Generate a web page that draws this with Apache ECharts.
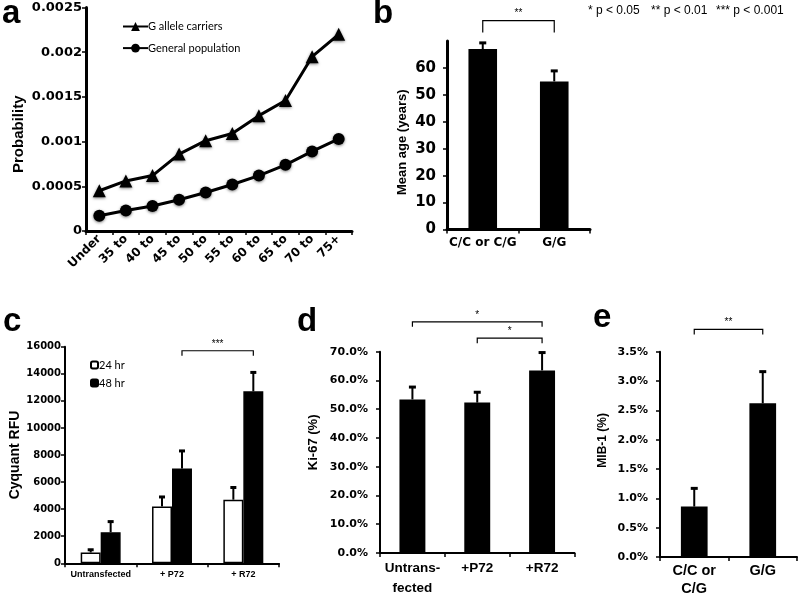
<!DOCTYPE html>
<html>
<head>
<meta charset="utf-8">
<script src="https://cdn.jsdelivr.net/npm/echarts@6/dist/echarts.min.js"></script>
<style>
html, body { margin: 0; padding: 0; background: #fff; }
#main { width: 800px; height: 598px; }
</style>
</head>
<body>
<div id="main"></div>
<script>
// panel a - probability by age group
var ageGroups = ['Under', '35 to', '40 to', '45 to', '50 to', '55 to', '60 to', '65 to', '70 to', '75+'];
var gCarriers = [0.00045, 0.00056, 0.00062, 0.00086, 0.00101, 0.00109, 0.00129, 0.00146, 0.00195, 0.00220];
var generalPop = [0.00017, 0.00023, 0.00028, 0.00035, 0.00043, 0.00052, 0.00062, 0.00074, 0.00089, 0.00103];

// panel b - mean age
var genotypes = ['C/C or C/G', 'G/G'];
var meanAge = [67, 55];
var meanAgeErr = [2.3, 3.9];
var sigB = [[0, 1, 77.6]];
var sigBText = ['**'];

// panel c - cyquant
var cellGroups = ['Untransfected', '+ P72', '+ R72'];
var rfu24 = [800, 4200, 4700];
var rfu24Err = [200, 700, 900];
var rfu48 = [2300, 7000, 12700];
var rfu48Err = [780, 1300, 1400];
var sigC = [[1, 2, 15700]];
var sigCText = ['***'];

// panel d - Ki-67
var ki67Groups = ['Untrans-\nfected', '+P72', '+R72'];
var ki67 = [0.534, 0.523, 0.635];
var ki67Err = [0.043, 0.036, 0.062];
var sigD = [[0, 2, 0.804], [1, 2, 0.747]];
var sigDText = ['*', '*'];

// panel e - MIB-1
var mibGroups = ['C/C or\nC/G', 'G/G'];
var mib1 = [0.0086, 0.0262];
var mib1Err = [0.0031, 0.0054];
var sigE = [[0, 1, 0.0388]];
var sigEText = ['**'];

var pNotes = ['* p < 0.05', '** p < 0.01', '*** p < 0.001'];

var FONT = 'Liberation Sans';
var WIDE = 'DejaVu Sans';
var chart = echarts.init(document.getElementById('main'));

function catAxis(gi, data, lbl, lw) {
    return {
        type: 'category', gridIndex: gi, data: data,
        axisLine: { show: true, lineStyle: { color: '#000', width: lw || 2 } },
        axisTick: { show: true, alignWithLabel: false, interval: 0, length: 4, lineStyle: { color: '#000', width: 1.5 } },
        axisLabel: Object.assign({ interval: 0, color: '#000', fontFamily: FONT, fontWeight: 'bold', margin: 6 }, lbl),
        splitLine: { show: false }
    };
}

function valAxis(gi, max, interval, lbl, name, nameSize, nameGap, pad, lw) {
    return {
        type: 'value', gridIndex: gi, min: 0, max: max, interval: interval,
        name: name, nameLocation: 'middle', nameGap: nameGap,
        nameTextStyle: { color: '#000', fontFamily: FONT, fontWeight: 'bold', fontSize: nameSize, padding: pad },
        axisLine: { show: true, lineStyle: { color: '#000', width: lw || 2 } },
        axisTick: { show: true, length: 4, lineStyle: { color: '#000', width: 1.5 } },
        axisLabel: Object.assign({ color: '#000', fontFamily: WIDE, fontWeight: 'bold' }, lbl),
        splitLine: { show: false }
    };
}

function pct(v) { return (v * 100).toFixed(1) + '%'; }
function plain(v) { return String(v); }

function errorSeries(xi, means, errs, offset, capW) {
    return {
        type: 'custom', xAxisIndex: xi, yAxisIndex: xi, z: 5, silent: true,
        renderItem: function (params, api) {
            var band = api.size([1, 0])[0];
            var base = api.coord([api.value(0), api.value(1)]);
            var top = api.coord([api.value(0), api.value(1) + api.value(2)]);
            var x = base[0] + offset * band;
            return {
                type: 'group', children: [
                    { type: 'line', shape: { x1: x, y1: base[1], x2: x, y2: top[1] }, style: { stroke: '#000', lineWidth: 2 } },
                    { type: 'line', shape: { x1: x - capW / 2, y1: top[1], x2: x + capW / 2, y2: top[1] }, style: { stroke: '#000', lineWidth: 3 } }
                ]
            };
        },
        data: means.map(function (m, i) { return [i, m, errs[i]]; })
    };
}

function bracketSeries(xi, list, texts, leg, off1, off2) {
    return {
        type: 'custom', xAxisIndex: xi, yAxisIndex: xi, clip: false, silent: true, z: 6,
        renderItem: function (params, api) {
            var band = api.size([1, 0])[0];
            var p1 = api.coord([api.value(0), api.value(2)]);
            var p2 = api.coord([api.value(1), api.value(2)]);
            var x1 = p1[0] + off1 * band, x2 = p2[0] + off2 * band, y = p1[1];
            return {
                type: 'group', children: [
                    { type: 'polyline', shape: { points: [[x1, y + leg], [x1, y], [x2, y], [x2, y + leg]] },
                      style: { stroke: '#000', fill: null, lineWidth: 1.2 } },
                    { type: 'text', style: { text: texts[params.dataIndex], x: (x1 + x2) / 2, y: y - 2,
                      align: 'center', verticalAlign: 'bottom', fontSize: 10, fontFamily: FONT, fill: '#000' } }
                ]
            };
        },
        data: list
    };
}

function letter(ch, x, y) {
    return { type: 'text', left: x, top: y, style: { text: ch, font: 'bold 33px "Liberation Sans"', fill: '#000' } };
}

function note(i, x) {
    return { type: 'text', left: x, top: 5, style: { text: pNotes[i], font: '12px "Liberation Sans"', fill: '#000' } };
}

var option = {
    animation: false,
    backgroundColor: '#fff',
    textStyle: { fontFamily: FONT, color: '#000' },
    grid: [
        { left: 86, right: 448, top: 7.5, bottom: 367 },
        { left: 447, right: 210, top: 41, bottom: 368.5 },
        { left: 65, right: 521, top: 346.7, bottom: 34.7 },
        { left: 380, right: 225.5, top: 351.7, bottom: 32 },
        { left: 660, right: 3, top: 351.7, bottom: 31.5 }
    ],
    legend: [
        {
            data: ['G allele carriers', 'General population'], orient: 'vertical', padding: 0,
            left: 122, top: 21, itemWidth: 25, itemHeight: 11, itemGap: 10.6,
            textStyle: { fontFamily: 'Lato', fontSize: 11, color: '#000', padding: [0, 0, 0, -5] }
        },
        {
            data: ['24 hr', '48 hr'], orient: 'vertical', padding: 0,
            left: 90, top: 359.5, itemWidth: 7, itemHeight: 7, itemGap: 7,
            textStyle: { fontFamily: 'Lato', fontSize: 11, color: '#000', padding: [0, 0, 0, -4] }
        }
    ],
    xAxis: [
        catAxis(0, ageGroups, { fontFamily: WIDE, fontSize: 12, rotate: 45, margin: 6 }, 3),
        catAxis(1, genotypes, { fontFamily: WIDE, fontSize: 12, margin: 7 }, 3),
        catAxis(2, cellGroups, { fontSize: 9, margin: 7 }),
        catAxis(3, ki67Groups, { fontSize: 13.5, lineHeight: 20, margin: 5 }),
        catAxis(4, mibGroups, { fontSize: 14.5, lineHeight: 18, margin: 5 })
    ],
    yAxis: [
        valAxis(0, 0.0025, 0.0005, { fontSize: 13, margin: 4 }, 'Probability', 15, 60, [0, 30, 0, 0], 3),
        valAxis(1, 70, 10, { fontSize: 15, margin: 11, showMaxLabel: false }, 'Mean age (years)', 13, 38, [0, 14, 0, 0], 3),
        valAxis(2, 16000, 2000, { fontSize: 10, margin: 4, formatter: plain }, 'Cyquant RFU', 14, 43, [0, 0, 0, 0]),
        valAxis(3, 0.7, 0.1, { fontSize: 11, margin: 12, formatter: pct }, 'Ki-67 (%)', 13, 60, [0, 0, 0, 20], 2),
        valAxis(4, 0.035, 0.005, { fontSize: 11, margin: 12, formatter: pct }, 'MIB-1 (%)', 12, 51, [0, 0, 0, 28], 2)
    ],
    series: [
        {
            name: 'G allele carriers', type: 'line', xAxisIndex: 0, yAxisIndex: 0, data: gCarriers,
            symbol: 'triangle', symbolSize: 13, showAllSymbol: true,
            lineStyle: { color: '#000', width: 3 },
            itemStyle: { color: '#000', shadowBlur: 3, shadowColor: 'rgba(0,0,0,0.5)', shadowOffsetY: 1 }
        },
        {
            name: 'General population', type: 'line', xAxisIndex: 0, yAxisIndex: 0, data: generalPop,
            symbol: 'circle', symbolSize: 12, showAllSymbol: true,
            lineStyle: { color: '#000', width: 3 },
            itemStyle: { color: '#000', shadowBlur: 3, shadowColor: 'rgba(0,0,0,0.5)', shadowOffsetY: 1 }
        },
        { type: 'bar', xAxisIndex: 1, yAxisIndex: 1, data: meanAge, barWidth: '40%', itemStyle: { color: '#000' } },
        errorSeries(1, meanAge, meanAgeErr, 0, 7),
        bracketSeries(1, sigB, sigBText, 12, 0, 0),
        {
            name: '24 hr', type: 'bar', xAxisIndex: 2, yAxisIndex: 2, data: rfu24, barWidth: '28%', barGap: '0%',
            itemStyle: { color: '#fff', borderColor: '#000', borderWidth: 1.5 }
        },
        {
            name: '48 hr', type: 'bar', xAxisIndex: 2, yAxisIndex: 2, data: rfu48, barWidth: '28%', barGap: '0%',
            itemStyle: { color: '#000', borderColor: '#000', borderWidth: 1.5 }
        },
        errorSeries(2, rfu24, rfu24Err, -0.14, 6),
        errorSeries(2, rfu48, rfu48Err, 0.14, 6),
        bracketSeries(2, sigC, sigCText, 5, 0.14, 0.14),
        { type: 'bar', xAxisIndex: 3, yAxisIndex: 3, data: ki67, barWidth: '40%', itemStyle: { color: '#000' } },
        errorSeries(3, ki67, ki67Err, 0, 7),
        bracketSeries(3, sigD, sigDText, 5, 0, 0),
        { type: 'bar', xAxisIndex: 4, yAxisIndex: 4, data: mib1, barWidth: '39%', itemStyle: { color: '#000' } },
        errorSeries(4, mib1, mib1Err, 0, 7),
        bracketSeries(4, sigE, sigEText, 5, 0, 0)
    ],
    graphic: [
        letter('a', 2, -3),
        letter('b', 373, -3),
        letter('c', 3, 305),
        letter('d', 297, 305),
        letter('e', 593, 301),
        note(0, 588),
        note(1, 651),
        note(2, 716)
    ]
};

chart.setOption(option);
</script>
</body>
</html>
